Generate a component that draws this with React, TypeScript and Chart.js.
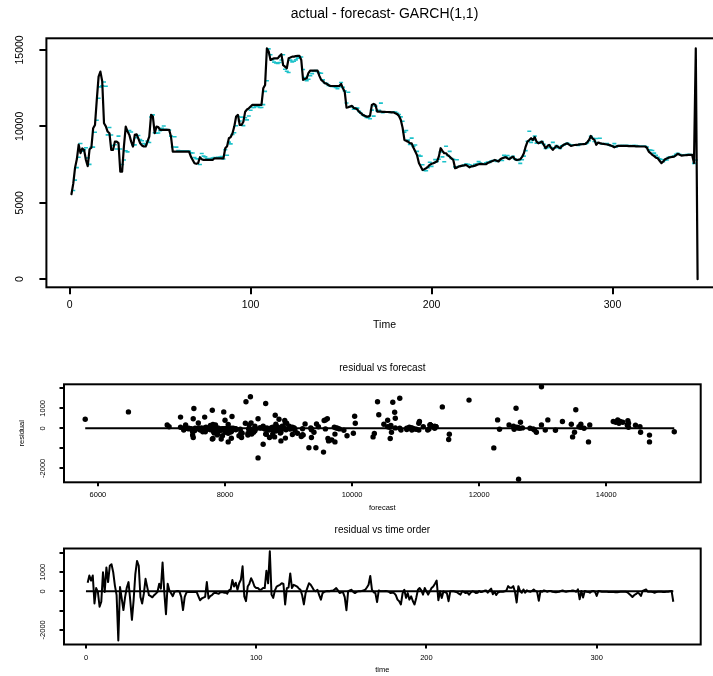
import React, { useEffect, useRef } from "react";
import { Chart, registerables } from "chart.js";

Chart.register(...registerables);

const FONT = "'Liberation Sans', Arial, Helvetica, sans-serif";
const CYAN = "#1CC2CA";

// actual series, t = 1..347
const ACTUAL = [
  5560, 6250, 7300, 7860, 8800, 8250, 8550, 8450, 7800, 7400,
  8500, 8600, 9880, 10090, 11730, 13250, 13580, 12950, 10200, 10000,
  9660, 9550, 8460, 8460, 9000, 9000, 8900, 7040, 7040, 8700,
  9980, 9660, 9440, 9000, 8680, 9440, 9480, 9200, 8890, 8750,
  8680, 8680, 9000, 9330, 10750, 10640, 9550, 9980, 9950, 9770,
  9770, 9770, 9770, 9770, 9770, 9330, 8350, 8350, 8350, 8350,
  8350, 8350, 8350, 8350, 8350, 8350, 8020, 7800, 7590, 7550,
  7590, 7980, 7850, 7800, 7800, 7800, 7800, 7800, 7800, 7910,
  7910, 7910, 7910, 7910, 7910, 8570, 8700, 9220, 9300, 9550,
  10000, 10640, 10750, 10090, 10090, 10300, 10960, 11100, 11180, 11300,
  11400, 11400, 11400, 11400, 11400, 11400, 12490, 12710, 15100, 14900,
  14340, 14400, 14450, 14450, 14450, 14600, 14720, 14000, 13910, 13800,
  14450, 14500, 14560, 14560, 14600, 14610, 14610, 14340, 13040, 13100,
  13150, 13500, 13650, 13650, 13650, 13650, 13650, 13300, 13040, 12950,
  12820, 12800, 12700, 12640, 12640, 12640, 12640, 12640, 12640, 12780,
  12500, 12270, 11230, 11250, 11300, 11340, 11200, 11180, 11100, 10950,
  10860, 10750, 10700, 10640, 10640, 10700, 11400, 11470, 11400, 10960,
  10960, 10960, 10950, 10950, 10940, 10940, 10930, 10920, 10920, 10850,
  10800, 10680, 10420, 9900, 9110, 9050, 9000, 8900, 8890, 8600,
  8350, 8100, 7600, 7370, 7150, 7200, 7260, 7350, 7480, 7550,
  7590, 7650, 7700, 8020, 8570, 8400, 8240, 8240, 8100, 8020,
  7900, 7800, 7260, 7300, 7370, 7400, 7430, 7450, 7480, 7400,
  7320, 7380, 7400, 7430, 7480, 7520, 7540, 7530, 7520, 7520,
  7600, 7650, 7700, 7750, 7800, 7750, 7700, 7850, 7910, 7950,
  7980, 7900, 7850, 7950, 8020, 7850, 7800, 7820, 7850, 8000,
  8240, 8680, 9000, 9100, 9220, 9110, 9290, 9000, 8890, 8950,
  9000, 8800, 8570, 8700, 8790, 8600, 8460, 8600, 8720, 8650,
  8570, 8700, 8790, 8850, 8890, 8800, 8720, 8750, 8780, 8790,
  8800, 8820, 8830, 8840, 8850, 8950, 9110, 9370, 9200, 9110,
  8790, 8940, 8900, 8870, 8850, 8830, 8810, 8790, 8750, 8700,
  8630, 8680, 8720, 8720, 8720, 8720, 8720, 8720, 8710, 8700,
  8700, 8700, 8690, 8690, 8680, 8680, 8680, 8680, 8600, 8350,
  8250, 8130, 8050, 7950, 7910, 7750, 7590, 7700, 7850, 7900,
  7950, 7980, 8000, 8020, 8100, 8200, 8150, 8090, 8100, 8110,
  8120, 8130, 8130, 8130, 7600, 15100, 0,
];

// one-step forecasts, drawn at t = 2..346
const FORECAST = [
  5800, 6480, 7300, 7980, 8880, 8380, 8480, 8600, 7940, 7510,
  8630, 8640, 9610, 10400, 11840, 12580, 12650, 12900, 12620, 9440,
  9920, 9430, 8750, 8800, 8520, 9360, 8520, 7500, 7800, 8400,
  8330, 9730, 9630, 8800, 8790, 9260, 9400, 9140, 9060, 8880,
  8800, 9030, 8940, 10610, 10750, 9580, 9550, 9560, 9720, 9870,
  10020, 9800, 9770, 9750, 9360, 8650, 9320, 8640, 8420, 8380,
  8380, 8380, 8380, 8380, 8380, 8270, 8260, 7960, 7880, 7880,
  7500, 8220, 8050, 8000, 7900, 7870, 7900, 7920, 7960, 7940,
  7980, 7980, 8030, 7860, 8470, 8110, 8970, 8850, 9470, 9580,
  10040, 10640, 10350, 10600, 10050, 10560, 10420, 10680, 11050, 11230,
  11230, 11320, 11300, 11230, 11230, 11420, 12290, 12980, 15070, 14680,
  14350, 14200, 14150, 14110, 14180, 14340, 14680, 13740, 13600, 13520,
  14330, 14220, 14260, 14350, 14460, 14530, 14540, 13720, 13200, 12980,
  13080, 13310, 13450, 13600, 13650, 13570, 13500, 13470, 13040, 12850,
  12800, 12680, 12640, 12610, 12610, 12540, 12470, 12590, 12870, 12550,
  12320, 11530, 12230, 11300, 11290, 11120, 11210, 11190, 10980, 10860,
  10750, 10680, 10590, 10560, 10500, 11060, 10670, 11320, 11010, 11050,
  11520, 10900, 10950, 10940, 10940, 10910, 10920, 10950, 10940, 10860,
  10770, 10620, 10330, 9620, 9730, 9100, 8820, 9230, 8690, 8780,
  8360, 8100, 8050, 7490, 7120, 7090, 7300, 7650, 7380, 7590,
  7820, 7700, 7850, 8320, 8000, 7680, 8700, 8100, 8360, 7900,
  7850, 7350, 7810, 7370, 7400, 7430, 7470, 7530, 7520, 7490,
  7380, 7430, 7520, 7530, 7690, 7600, 7530, 7540, 7610, 7670,
  7630, 7740, 7770, 7770, 7700, 7770, 7800, 7770, 8100, 8000,
  8090, 7910, 7970, 8040, 7870, 7800, 7770, 7580, 7810, 8050,
  8410, 9020, 9680, 8950, 9090, 9360, 8900, 8960, 8900, 9000,
  8820, 8550, 8600, 8770, 8620, 8950, 8580, 8740, 8600, 8550,
  8720, 8770, 8830, 8910, 8830, 8770, 8780, 8800, 8770, 8750,
  8820, 8850, 8840, 8830, 8920, 9060, 9350, 9220, 9010, 9200,
  8920, 9220, 8850, 8870, 8860, 8880, 8790, 8730, 8720, 8870,
  8660, 8720, 8740, 8740, 8740, 8740, 8750, 8740, 8730, 8740,
  8750, 8740, 8720, 8700, 8700, 8700, 8700, 8650, 8470, 8450,
  8420, 8250, 8100, 7980, 7870, 7830, 7680, 7790, 7800, 7970,
  8000, 8020, 8060, 8170, 8240, 8170, 8110, 8120, 8140, 8150,
  8150, 8150, 8130, 7580, 7800,
];

// residuals, index 1..345
const RESIDUAL = [
  450, 820, 560, 820, -630, 170, -30, -800, -540, 990,
  -30, 1240, 480, 1330, 1410, 1000, 300, -200, -2550, 220,
  -370, -970, -290, 200, 480, -460, -1480, -460, 900, 1580,
  1330, -290, -630, -120, 650, 220, -200, -250, -310, -200,
  -120, -30, 390, 140, 1500, -30, -1190, 390, 50, -100,
  -250, -30, 0, 20, -30, -300, -970, -290, -70, -30,
  -30, -30, -30, -30, -30, -250, -460, -370, -330, -290,
  480, -370, -250, -200, -100, -70, -100, -120, -50, -30,
  -70, -70, -120, 50, 100, 590, 250, 450, 80, 420,
  600, 1300, -260, -510, 250, 400, 680, 500, 250, 170,
  170, 80, 100, 170, 170, 1070, 420, 2080, -170, -340,
  50, 250, 300, 340, 420, 380, -680, 170, 200, 930,
  170, 340, 300, 250, 150, 80, -200, -680, -100, 170,
  420, 340, 200, 50, 0, 80, -200, -430, -90, -30,
  0, 20, 0, 30, 30, 100, 170, 50, -90, -50,
  -50, -300, -980, 0, 50, 80, -30, -90, -30, 0,
  0, 20, 50, 80, 200, 340, 800, 80, -50, -90,
  -560, 50, 0, 0, 0, 20, 0, -30, -90, -60,
  -90, -200, -430, -510, -680, -100, 80, -340, -90, -430,
  -260, -500, -680, -340, 80, 170, 50, -170, 170, 0,
  -170, 0, 170, 250, 400, 560, -460, 0, -340, 0,
  -50, -90, -510, 0, 0, 0, -20, -50, -120, -170,
  0, -30, -90, -50, -170, -60, 0, -20, -90, -70,
  20, -40, -20, 30, 50, -70, 50, 140, -150, -20,
  -190, -60, -20, -20, -20, 0, 50, 270, 190, 190,
  270, -20, -580, 270, 20, -70, 100, -70, 50, 0,
  -20, 20, 100, 20, -20, -490, 20, -20, 50, 20,
  -20, 20, 20, -20, -30, -50, -30, -20, 20, 50,
  0, -20, 0, 20, 30, 50, 20, -20, 100, -410,
  20, -320, 20, -20, -30, -70, 0, 20, -20, -240,
  20, 0, -20, -20, -20, -20, -30, -30, -30, -40,
  -50, -50, -30, -20, -20, -20, -20, -50, -120, -200,
  -290, -200, -150, -70, -120, -240, 20, 60, 100, -20,
  -20, -20, -40, -70, -40, -20, -20, -20, -30, -30,
  -20, -20, 0, 20, -540,
];

const TOP_TITLE = "actual - forecast- GARCH(1,1)";
const MID_TITLE = "residual vs forecast";
const BOT_TITLE = "residual vs time order";
const TOP_X_LABEL = "Time";
const MID_X_LABEL = "forecast";
const MID_Y_LABEL = "residual";
const BOT_X_LABEL = "time";
const TOP_X_TICKS = [0, 100, 200, 300];
const TOP_Y_TICKS = [0, 5000, 10000, 15000];
const MID_X_TICKS = [6000, 8000, 10000, 12000, 14000];
const RES_Y_TICKS = [-2000, -1000, 0, 1000, 2000];
const RES_Y_LABELS = [-2000, 0, 1000];
const BOT_X_TICKS = [0, 100, 200, 300];

const boxPlugin = {
  id: "rbox",
  afterDraw(chart: any) {
    const { ctx, chartArea: a } = chart;
    ctx.save();
    ctx.strokeStyle = "#000";
    ctx.lineWidth = 2;
    ctx.strokeRect(a.left, a.top, a.right - a.left, a.bottom - a.top);
    ctx.restore();
  },
};

function rotatedYLabels(values: number[], x: number, size: number) {
  return {
    id: "rotYLabels",
    afterDraw(chart: any) {
      const s = chart.scales.y;
      const ctx = chart.ctx;
      ctx.save();
      ctx.fillStyle = "#000";
      ctx.font = `${size}px ${FONT}`;
      ctx.textAlign = "center";
      ctx.textBaseline = "middle";
      values.forEach((v) => {
        const y = s.getPixelForValue(v);
        ctx.save();
        ctx.translate(x, y);
        ctx.rotate(-Math.PI / 2);
        ctx.fillText(String(v), 0, 0);
        ctx.restore();
      });
      ctx.restore();
    },
  };
}

function xScale(o: any) {
  return {
    type: "linear",
    position: "bottom",
    min: o.min,
    max: o.max,
    afterBuildTicks: (s: any) => {
      s.ticks = o.ticks.map((v: number) => ({ value: v }));
    },
    afterFit: (s: any) => {
      s.height = o.height;
    },
    grid: {
      display: true,
      drawOnChartArea: false,
      drawTicks: true,
      tickLength: o.tickLen,
      tickColor: "#000",
      tickWidth: 2,
      lineWidth: 2,
      color: "#000",
    },
    border: { display: false },
    ticks: {
      display: true,
      autoSkip: false,
      maxRotation: 0,
      minRotation: 0,
      padding: o.pad,
      color: "#000",
      font: { family: FONT, size: o.fontSize },
      callback: (v: any) => String(v),
    },
    title: {
      display: true,
      text: o.title,
      color: "#000",
      font: { family: FONT, size: o.titleSize },
      padding: { top: 0, bottom: o.titlePad },
    },
  };
}

function yScale(o: any) {
  return {
    type: "linear",
    position: "left",
    min: o.min,
    max: o.max,
    afterBuildTicks: (s: any) => {
      s.ticks = o.ticks.map((v: number) => ({ value: v }));
    },
    afterFit: (s: any) => {
      s.width = o.width;
    },
    grid: {
      display: true,
      drawOnChartArea: false,
      drawTicks: true,
      tickLength: o.tickLen,
      tickColor: "#000",
      tickWidth: 2,
      lineWidth: 2,
      color: "#000",
    },
    border: { display: false },
    ticks: { display: false },
    title: o.title
      ? {
          display: true,
          text: o.title,
          color: "#000",
          font: { family: FONT, size: o.titleSize },
          padding: { top: o.titlePad, bottom: 0 },
        }
      : { display: false },
  };
}

function titleOpts(text: string, size: number, top: number, bottom: number) {
  return {
    display: true,
    text,
    fullSize: false,
    color: "#000",
    font: { family: FONT, size, weight: "normal" },
    padding: { top, bottom },
  };
}

function ChartCanvas({ top, width, height, make }: any) {
  const ref = useRef<HTMLCanvasElement | null>(null);
  useEffect(() => {
    const chart = new Chart(ref.current as HTMLCanvasElement, make());
    return () => chart.destroy();
  }, []);
  return (
    <canvas
      ref={ref}
      width={width}
      height={height}
      style={{ position: "absolute", left: 0, top, width, height, display: "block" }}
    />
  );
}

function makeTop(): any {
  return {
    type: "line",
    data: {
      datasets: [
        {
          label: "actual",
          data: ACTUAL.map((v, i) => ({ x: i + 1, y: v })),
          borderColor: "#000",
          borderWidth: 2.2,
          borderJoinStyle: "round",
          borderCapStyle: "round",
          pointRadius: 0,
          tension: 0,
          order: 0,
        },
        {
          label: "forecast",
          data: FORECAST.map((v, i) => ({ x: i + 2, y: v })),
          showLine: false,
          pointStyle: "line",
          pointRadius: 2,
          pointBorderWidth: 1.6,
          pointBorderColor: CYAN,
          borderColor: CYAN,
          order: 1,
        },
      ],
    },
    options: {
      responsive: false,
      animation: false,
      devicePixelRatio: 1,
      events: [],
      layout: { padding: { left: 0, right: 7.3, top: 0, bottom: 0 } },
      plugins: {
        legend: { display: false },
        tooltip: { enabled: false },
        title: titleOpts(TOP_TITLE, 14, 5.4, 16.1),
      },
      scales: {
        x: xScale({
          min: -12.84, max: 360.87, ticks: TOP_X_TICKS, height: 52.7, tickLen: 7,
          pad: 5, fontSize: 10.5, title: TOP_X_LABEL, titleSize: 10.5, titlePad: 8.7,
        }),
        y: yScale({ min: -530, max: 15760, ticks: TOP_Y_TICKS, width: 46.4, tickLen: 7 }),
      },
    },
    plugins: [boxPlugin, rotatedYLabels(TOP_Y_TICKS, 20, 10.5)],
  };
}

function makeMid(): any {
  const fMin = Math.min(...FORECAST);
  const fMax = Math.max(...FORECAST);
  return {
    type: "scatter",
    data: {
      datasets: [
        {
          label: "points",
          data: FORECAST.map((f, i) => ({ x: f, y: RESIDUAL[i] })),
          pointRadius: 2.7,
          pointBorderWidth: 0,
          pointBackgroundColor: "#000",
          backgroundColor: "#000",
          order: 0,
        },
        {
          label: "zero",
          data: [{ x: fMin, y: 0 }, { x: fMax, y: 0 }],
          showLine: true,
          borderColor: "#000",
          borderWidth: 2,
          pointRadius: 0,
          order: 1,
        },
      ],
    },
    options: {
      responsive: false,
      animation: false,
      devicePixelRatio: 1,
      events: [],
      layout: { padding: { left: 0, right: 12.3, top: 0, bottom: 0 } },
      plugins: {
        legend: { display: false },
        tooltip: { enabled: false },
        title: titleOpts(MID_TITLE, 10, 22, 10.3),
      },
      scales: {
        x: xScale({
          min: 5466, max: 15486, ticks: MID_X_TICKS, height: 32.7, tickLen: 4,
          pad: 3.9, fontSize: 7.5, title: MID_X_LABEL, titleSize: 7.5, titlePad: 2.5,
        }),
        y: yScale({
          min: -2700, max: 2200, ticks: RES_Y_TICKS, width: 64, tickLen: 4.5,
          title: MID_Y_LABEL, titleSize: 7.5, titlePad: 17.5,
        }),
      },
    },
    plugins: [boxPlugin, rotatedYLabels(RES_Y_LABELS, 43.3, 7.5)],
  };
}

function makeBot(): any {
  return {
    type: "line",
    data: {
      datasets: [
        {
          label: "residual",
          data: RESIDUAL.map((v, i) => ({ x: i + 1, y: v })),
          borderColor: "#000",
          borderWidth: 2,
          borderJoinStyle: "round",
          pointRadius: 0,
          tension: 0,
          order: 1,
        },
        {
          label: "zero",
          data: [{ x: 0, y: 0 }, { x: RESIDUAL.length, y: 0 }],
          borderColor: "#000",
          borderWidth: 2,
          pointRadius: 0,
          order: 0,
        },
      ],
    },
    options: {
      responsive: false,
      animation: false,
      devicePixelRatio: 1,
      events: [],
      layout: { padding: { left: 0, right: 12.3, top: 0, bottom: 0 } },
      plugins: {
        legend: { display: false },
        tooltip: { enabled: false },
        title: titleOpts(BOT_TITLE, 10, 9, 12.5),
      },
      scales: {
        x: xScale({
          min: -12.9, max: 361.1, ticks: BOT_X_TICKS, height: 31.5, tickLen: 4,
          pad: 5, fontSize: 7.5, title: BOT_X_LABEL, titleSize: 7.5, titlePad: 1.5,
        }),
        y: yScale({ min: -2760, max: 2225, ticks: RES_Y_TICKS, width: 64, tickLen: 4.5 }),
      },
    },
    plugins: [boxPlugin, rotatedYLabels(RES_Y_LABELS, 43.3, 7.5)],
  };
}

export default function App() {
  return (
    <div
      style={{
        position: "fixed",
        left: 0,
        top: 0,
        width: 713,
        height: 676,
        overflow: "hidden",
        background: "#fff",
      }}
    >
      <ChartCanvas top={0} width={730} height={340} make={makeTop} />
      <ChartCanvas top={340} width={713} height={175} make={makeMid} />
      <ChartCanvas top={515} width={713} height={161} make={makeBot} />
    </div>
  );
}
